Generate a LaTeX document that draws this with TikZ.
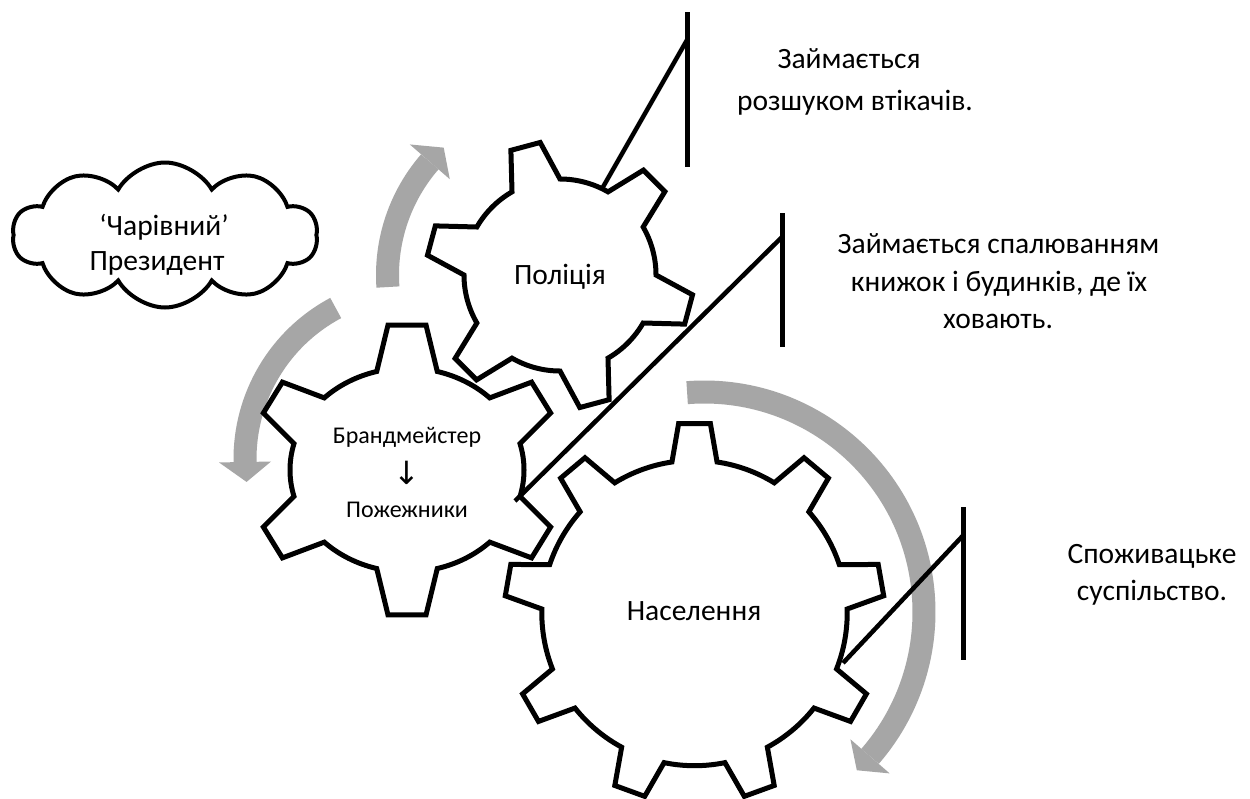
\documentclass[tikz,border=0pt]{standalone}
\usepackage{fontspec}
\setmainfont{Carlito}
\newfontfamily\symfont{DejaVu Sans}
\usetikzlibrary{shapes.symbols}
\definecolor{arrowgray}{RGB}{166,166,166}
\newcommand{\txtsize}[1]{\fontsize{#1}{#1}\selectfont}
% #1 teeth, #2 first tooth angle, #3/#4 root radii, #5/#6 tip radii, #7 root half angle, #8 tip half angle
\newcommand{\gearpath}[8]{%
  \pgfmathsetmacro{\gearP}{360/#1}%
  \pgfmathtruncatemacro{\gearN}{#1-1}%
  \draw[gearline] ({#2-#7}:#3 and #4)
    \foreach \k in {0,...,\gearN}{
      -- ({#2+\k*\gearP-#8}:#5 and #6)
      -- ({#2+\k*\gearP+#8}:#5 and #6)
      -- ({#2+\k*\gearP+#7}:#3 and #4)
      arc[start angle={#2+\k*\gearP+#7}, end angle={#2+(\k+1)*\gearP-#7}, x radius=#3, y radius=#4]
    } -- cycle;%
}
\begin{document}
\begin{tikzpicture}[x=1pt,y=-1pt,
  gearline/.style={draw=black, fill=white, line width=5pt, line join=miter},
  calloutline/.style={draw=black, line width=4.5pt},
  barline/.style={draw=black, line width=5pt},
  arrowshaft/.style={draw=arrowgray, line width=23pt},
  arrowhead/.style={fill=arrowgray},
  lbl/.style={inner sep=0pt, anchor=base, font=\txtsize{29.5}},
  smalllbl/.style={inner sep=0pt, anchor=base, font=\txtsize{24}},
  cloudbox/.style={cloud, cloud puffs=10, cloud puff arc=120, aspect=2.1, draw=black, fill=white, line width=4pt, minimum width=305pt, minimum height=145pt, inner sep=0pt}
  ]
\useasboundingbox (0,0) rectangle (1250,798);
\fill[white] (0,0) rectangle (1250,798);

% gray rotation arrows
\begin{scope}[shift={(560,275)},yscale=-1]
  \draw[arrowshaft] (184:172.5) arc[start angle=184, end angle=139, radius=172.5];
  \fill[arrowhead] (139:146) -- (139:199) -- (132.4:172.5) -- cycle;
\end{scope}
\begin{scope}[shift={(416,459)},yscale=-1]
  \draw[arrowshaft] (118:171) arc[start angle=118, end angle=181, radius=171];
  \fill[arrowhead] (181:145) -- (181:197) -- (187.7:171) -- cycle;
\end{scope}
\begin{scope}[shift={(704,612)},yscale=-1]
  \draw[arrowshaft] (94.4:220) arc[start angle=94.4, end angle=-41, radius=220];
  \fill[arrowhead] (-41:194) -- (-41:246) -- (-46:220) -- cycle;
\end{scope}

% cloud
\node[cloudbox] (cloud) at (165,235) {};
\node[lbl] (cloudA) at (164,235) {‘Чарівний’};
\node[lbl] (cloudB) at (157,270) {Президент};

% gears
\begin{scope}[shift={(560,275)},yscale=-1]
  \gearpath{6}{105}{96}{96}{134}{134}{15}{6.5}
\end{scope}
\begin{scope}[shift={(407,470)},yscale=-1]
  \gearpath{6}{90}{117}{102}{156}{146}{15}{7}
\end{scope}
\begin{scope}[shift={(694.5,613)},yscale=-1]
  \gearpath{9}{90}{152.7}{152.7}{190}{190}{8.5}{4.8}
\end{scope}

% gear labels
\node[lbl] (police) at (560,284) {Поліція};
\node[smalllbl] (brandA) at (407,443) {Брандмейстер};
\node[inner sep=0pt, font=\symfont\txtsize{32}] (brandArrow) at (407,473) {↓};
\node[smalllbl] (brandB) at (407,517) {Пожежники};
\node[lbl] (people) at (694,620) {Населення};

% callouts
\coordinate (c1gear) at (603,187);
\coordinate (c1bar) at (687,40);
\coordinate (b1top) at (687,12);
\coordinate (b1bot) at (687,167);
\draw[barline] (b1top) -- (b1bot);
\draw[calloutline] (c1gear) -- (c1bar);

\coordinate (c2gear) at (515,501);
\coordinate (c2bar) at (782,237);
\coordinate (b2top) at (782,213);
\coordinate (b2bot) at (782,347);
\draw[barline] (b2top) -- (b2bot);
\draw[calloutline] (c2gear) -- (c2bar);

\coordinate (c3gear) at (843,663);
\coordinate (c3bar) at (963.5,535);
\coordinate (b3top) at (963.5,507);
\coordinate (b3bot) at (963.5,660);
\draw[barline] (b3top) -- (b3bot);
\draw[calloutline] (c3gear) -- (c3bar);

% callout texts
\node[lbl] (t1a) at (849,68) {Займається};
\node[lbl] (t1b) at (855,110) {розшуком втікачів.};
\node[lbl] (t2a) at (998.5,253) {Займається спалюванням};
\node[lbl] (t2b) at (999,291) {книжок і будинків, де їх};
\node[lbl] (t2c) at (998,328) {ховають.};
\node[lbl] (t3a) at (1152,563) {Споживацьке};
\node[lbl] (t3b) at (1152,600) {суспільство.};
\end{tikzpicture}
\end{document}
